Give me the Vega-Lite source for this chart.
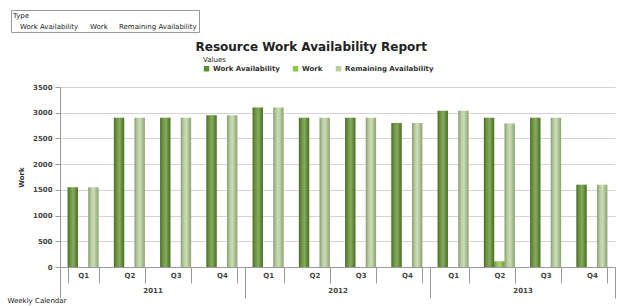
{
  "$schema": "https://vega.github.io/schema/vega-lite/v6.json",
  "width": 620,
  "height": 306,
  "autosize": {"type": "fit", "contains": "padding"},
  "padding": {"left": 7, "right": 4, "top": 41, "bottom": 3},
  "background": "white",
  "config": {"font": "DejaVu Sans", "view": {"stroke": null}},
  "title": {"text": "Resource Work Availability Report", "fontSize": 12, "fontWeight": "bold", "color": "#222", "anchor": "middle", "frame": "bounds", "offset": 29},
  "data": {"values": [
    {"Period": "2011 Q1", "Year": "2011", "Type": "Work Availability", "Value": 1550},
    {"Period": "2011 Q1", "Year": "2011", "Type": "Work", "Value": 0},
    {"Period": "2011 Q1", "Year": "2011", "Type": "Remaining Availability", "Value": 1550},
    {"Period": "2011 Q2", "Year": "2011", "Type": "Work Availability", "Value": 2900},
    {"Period": "2011 Q2", "Year": "2011", "Type": "Work", "Value": 0},
    {"Period": "2011 Q2", "Year": "2011", "Type": "Remaining Availability", "Value": 2900},
    {"Period": "2011 Q3", "Year": "2011", "Type": "Work Availability", "Value": 2900},
    {"Period": "2011 Q3", "Year": "2011", "Type": "Work", "Value": 0},
    {"Period": "2011 Q3", "Year": "2011", "Type": "Remaining Availability", "Value": 2900},
    {"Period": "2011 Q4", "Year": "2011", "Type": "Work Availability", "Value": 2950},
    {"Period": "2011 Q4", "Year": "2011", "Type": "Work", "Value": 0},
    {"Period": "2011 Q4", "Year": "2011", "Type": "Remaining Availability", "Value": 2950},
    {"Period": "2012 Q1", "Year": "2012", "Type": "Work Availability", "Value": 3100},
    {"Period": "2012 Q1", "Year": "2012", "Type": "Work", "Value": 0},
    {"Period": "2012 Q1", "Year": "2012", "Type": "Remaining Availability", "Value": 3100},
    {"Period": "2012 Q2", "Year": "2012", "Type": "Work Availability", "Value": 2900},
    {"Period": "2012 Q2", "Year": "2012", "Type": "Work", "Value": 0},
    {"Period": "2012 Q2", "Year": "2012", "Type": "Remaining Availability", "Value": 2900},
    {"Period": "2012 Q3", "Year": "2012", "Type": "Work Availability", "Value": 2900},
    {"Period": "2012 Q3", "Year": "2012", "Type": "Work", "Value": 0},
    {"Period": "2012 Q3", "Year": "2012", "Type": "Remaining Availability", "Value": 2900},
    {"Period": "2012 Q4", "Year": "2012", "Type": "Work Availability", "Value": 2800},
    {"Period": "2012 Q4", "Year": "2012", "Type": "Work", "Value": 0},
    {"Period": "2012 Q4", "Year": "2012", "Type": "Remaining Availability", "Value": 2800},
    {"Period": "2013 Q1", "Year": "2013", "Type": "Work Availability", "Value": 3040},
    {"Period": "2013 Q1", "Year": "2013", "Type": "Work", "Value": 0},
    {"Period": "2013 Q1", "Year": "2013", "Type": "Remaining Availability", "Value": 3040},
    {"Period": "2013 Q2", "Year": "2013", "Type": "Work Availability", "Value": 2900},
    {"Period": "2013 Q2", "Year": "2013", "Type": "Work", "Value": 110},
    {"Period": "2013 Q2", "Year": "2013", "Type": "Remaining Availability", "Value": 2790},
    {"Period": "2013 Q3", "Year": "2013", "Type": "Work Availability", "Value": 2900},
    {"Period": "2013 Q3", "Year": "2013", "Type": "Work", "Value": 0},
    {"Period": "2013 Q3", "Year": "2013", "Type": "Remaining Availability", "Value": 2900},
    {"Period": "2013 Q4", "Year": "2013", "Type": "Work Availability", "Value": 1600},
    {"Period": "2013 Q4", "Year": "2013", "Type": "Work", "Value": 0},
    {"Period": "2013 Q4", "Year": "2013", "Type": "Remaining Availability", "Value": 1600}
  ]},
  "layer": [
    {
      "encoding": {
        "x": {"field": "Period", "type": "nominal", "sort": null,
          "scale": {"paddingInner": 0.33, "paddingOuter": 0.165},
          "axis": {"orient": "bottom", "title": null, "labelExpr": "split(datum.value, ' ')[1]", "labelAngle": 0,
            "tickBand": "extent", "tickSize": 16, "tickColor": "#999", "domainColor": "#999",
            "labelPadding": -12, "labelFontSize": 7, "labelFontWeight": "bold", "labelColor": "#444", "grid": false}},
        "xOffset": {"field": "Type", "type": "nominal", "sort": ["Work Availability", "Work", "Remaining Availability"], "scale": {"paddingInner": 0}},
        "y": {"field": "Value", "type": "quantitative",
          "scale": {"domain": [0, 3500], "nice": false},
          "axis": {"title": "Work", "titleFontSize": 7, "titleFontWeight": "bold", "titleColor": "#333", "titlePadding": 8,
            "values": [0, 500, 1000, 1500, 2000, 2500, 3000, 3500], "format": "d",
            "labelFontSize": 7, "labelFontWeight": "bold", "labelColor": "#444", "labelPadding": 3,
            "tickSize": 5, "tickColor": "#999", "domainColor": "#999", "gridColor": "#d4d4d4"}}
      },
      "layer": [
        {
          "mark": {"type": "bar"},
          "encoding": {
            "color": {"field": "Type", "type": "nominal",
              "scale": {"domain": ["Work Availability", "Work", "Remaining Availability"], "range": ["#5f8f2b", "#8cc63f", "#b7d19a"]},
              "legend": {"title": "Values", "orient": "none", "legendX": 143, "legendY": -31, "direction": "horizontal",
                "titleFontSize": 7, "titleFontWeight": "normal", "titleColor": "#222", "titlePadding": 2,
                "labelFontSize": 7, "labelFontWeight": "bold", "labelColor": "#333",
                "symbolType": "square", "symbolSize": 30, "symbolStrokeWidth": 0, "columnPadding": 12, "labelOffset": 3}}
          }
        },
        {
          "mark": {"type": "bar", "fill": {"gradient": "linear", "x1": 0, "x2": 1, "y1": 0, "y2": 0,
            "stops": [
              {"offset": 0, "color": "rgba(0,0,0,0.28)"},
              {"offset": 0.4, "color": "rgba(255,255,255,0.15)"},
              {"offset": 0.55, "color": "rgba(255,255,255,0.25)"},
              {"offset": 1, "color": "rgba(0,0,0,0.22)"}
            ]}}
        },
        {
          "mark": {"type": "point", "opacity": 0},
          "encoding": {
            "shape": {"field": "Type", "type": "nominal", "sort": ["Work Availability", "Work", "Remaining Availability"],
              "legend": {"title": "Type", "orient": "none", "legendX": -49, "legendY": -77, "direction": "horizontal",
                "titleFontSize": 7, "titleFontWeight": "normal", "titleColor": "#222", "titlePadding": 4,
                "labelFontSize": 7, "labelColor": "#222", "symbolSize": 0, "symbolOpacity": 0, "labelOffset": 0,
                "columnPadding": 4, "strokeColor": "#999", "padding": 2}}
          }
        }
      ]
    },
    {
      "mark": {"type": "point", "opacity": 0},
      "encoding": {
        "x": {"field": "Year", "type": "nominal",
          "axis": {"orient": "bottom", "title": "Weekly Calendar", "titleX": -53, "titleY": 36, "titleAlign": "left", "titleBaseline": "bottom",
            "titleFontSize": 7, "titleFontWeight": "normal", "titleColor": "#222",
            "labelAngle": 0, "domain": false, "tickBand": "extent", "tickSize": 31, "tickColor": "#999",
            "labelPadding": -12, "labelFontSize": 7, "labelFontWeight": "bold", "labelColor": "#444", "grid": false}}
      }
    }
  ],
  "resolve": {"scale": {"x": "independent"}}
}
